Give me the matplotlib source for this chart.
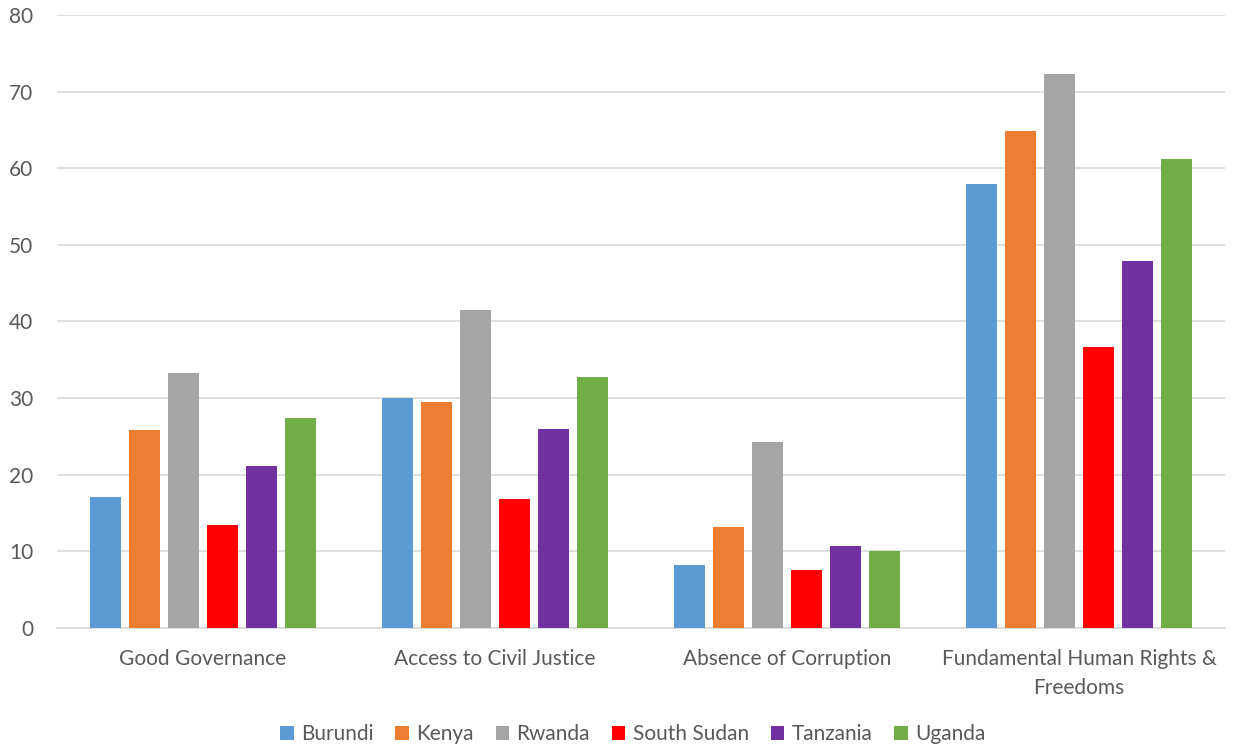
import matplotlib.pyplot as plt
import numpy as np

plt.rcParams['font.family'] = ['Lato', 'DejaVu Sans']

categorias = ['Good Governance', 'Access to Civil Justice', 'Absence of Corruption',
              'Fundamental Human Rights &\nFreedoms']
paises = ['Burundi', 'Kenya', 'Rwanda', 'South Sudan', 'Tanzania', 'Uganda']
colores = ['#5B9BD5', '#ED7D31', '#A5A5A5', '#FF0000', '#7030A0', '#70AD47']

burundi = [17.1, 30.0, 8.2, 57.9]
kenya = [25.9, 29.5, 13.2, 64.8]
rwanda = [33.3, 41.5, 24.3, 72.3]
south_sudan = [13.4, 16.8, 7.6, 36.7]
tanzania = [21.2, 26.0, 10.7, 47.9]
uganda = [27.4, 32.8, 10.0, 61.2]

valores = [burundi, kenya, rwanda, south_sudan, tanzania, uganda]

fig = plt.figure(figsize=(12.35, 7.48), dpi=100)
ax = fig.add_axes([0.046, 0.1604, 0.946, 0.8196])

x = np.arange(len(categorias))
paso = 0.1336
ancho = 0.106
for i, (pais, serie, color) in enumerate(zip(paises, valores, colores)):
    ax.bar(x + (i - 2.5) * paso, serie, ancho, color=color, label=pais, zorder=3)

ax.set_xlim(-0.5, 3.5)
ax.set_ylim(0, 80)
ax.set_yticks(range(0, 81, 10))
ax.set_xticks(x)
ax.set_xticklabels(categorias, linespacing=1.55)
ax.grid(axis='y', color='#D9D9D9', linewidth=1.2, zorder=0)
for s in ['top', 'right', 'left']:
    ax.spines[s].set_visible(False)
ax.spines['bottom'].set_color('#D9D9D9')
ax.spines['bottom'].set_linewidth(1.2)
ax.tick_params(axis='both', length=0, labelsize=15, colors='#595959')
ax.tick_params(axis='x', pad=15)
ax.tick_params(axis='y', pad=17)

ax.legend(loc='lower center', bbox_to_anchor=(0.493, -0.22), ncol=6, frameon=False,
          fontsize=15, labelcolor='#595959', handlelength=0.65, handleheight=0.65,
          handletextpad=0.35, columnspacing=1.05)

plt.savefig('out.png', dpi=100)
